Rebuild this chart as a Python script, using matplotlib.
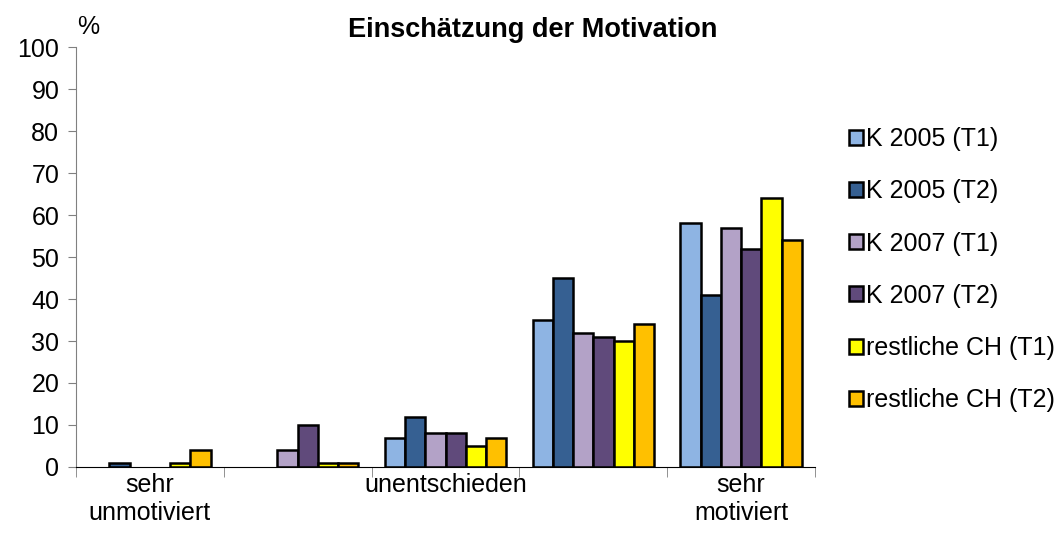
import numpy as np
import matplotlib
matplotlib.use("Agg")
import matplotlib.pyplot as plt
from matplotlib.ticker import FixedLocator

plt.rcParams['font.family'] = ['Liberation Sans', 'DejaVu Sans']

# data
categories = ['sehr\nunmotiviert', '', 'unentschieden', '', 'sehr\nmotiviert']
series = ['K 2005 (T1)', 'K 2005 (T2)', 'K 2007 (T1)', 'K 2007 (T2)',
          'restliche CH (T1)', 'restliche CH (T2)']
k2005_t1 = [0, 0, 7, 35, 58]
k2005_t2 = [1, 0, 12, 45, 41]
k2007_t1 = [0, 4, 8, 32, 57]
k2007_t2 = [0, 10, 8, 31, 52]
rest_t1 = [1, 1, 5, 30, 64]
rest_t2 = [4, 1, 7, 34, 54]
values = [k2005_t1, k2005_t2, k2007_t1, k2007_t2, rest_t1, rest_t2]
colors = ['#8EB4E3', '#366092', '#B3A2C7', '#604A7B', '#FFFF00', '#FFC000']

fs = 18

fig = plt.figure(figsize=(10.61, 5.49), dpi=100)
ax = fig.add_axes([76/1061, 1 - 467/549, (815-76)/1061, (467-47)/549])

x = np.arange(len(categories))
w = 0.137
for i, (name, vals, c) in enumerate(zip(series, values, colors)):
    v = np.array(vals, dtype=float)
    v[v == 0] = np.nan  # zero bars are not drawn
    ax.bar(x + (i - 2.5) * w, v, width=w, color=c, edgecolor='black',
           linewidth=1.8, label=name)

ax.set_xlim(-0.5, len(categories) - 0.5)
ax.set_ylim(0, 100)
ax.set_yticks(range(0, 101, 10))
ax.set_xticks(x)
ax.set_xticklabels(categories, fontsize=fs, linespacing=1.25)
ax.xaxis.set_minor_locator(FixedLocator(np.arange(-0.5, len(categories), 1)))
ax.tick_params(axis='x', which='major', length=0, pad=4)
ax.tick_params(axis='x', which='minor', length=7, direction='out', color='#808080')
ax.tick_params(axis='y', length=6, direction='out', labelsize=fs, color='#808080', pad=6)

for s in ['top', 'right']:
    ax.spines[s].set_visible(False)
ax.spines['left'].set_color('#808080')
ax.spines['bottom'].set_color('black')

fig.text(533/1061, 1 - 30/549, 'Einschätzung der Motivation', ha='center',
         va='center', fontsize=19.5, fontweight='bold')
fig.text(88/1061, 1 - 27/549, '%', ha='center', va='center', fontsize=fs)

ax.legend(loc='upper left', bbox_to_anchor=(849/1061, 1 - 127/549),
          bbox_transform=fig.transFigure, frameon=False, fontsize=fs,
          handlelength=0.55, handleheight=0.55, handletextpad=0.15,
          labelspacing=1.13, borderaxespad=0, borderpad=0)

fig.savefig('out.png', dpi=100)
